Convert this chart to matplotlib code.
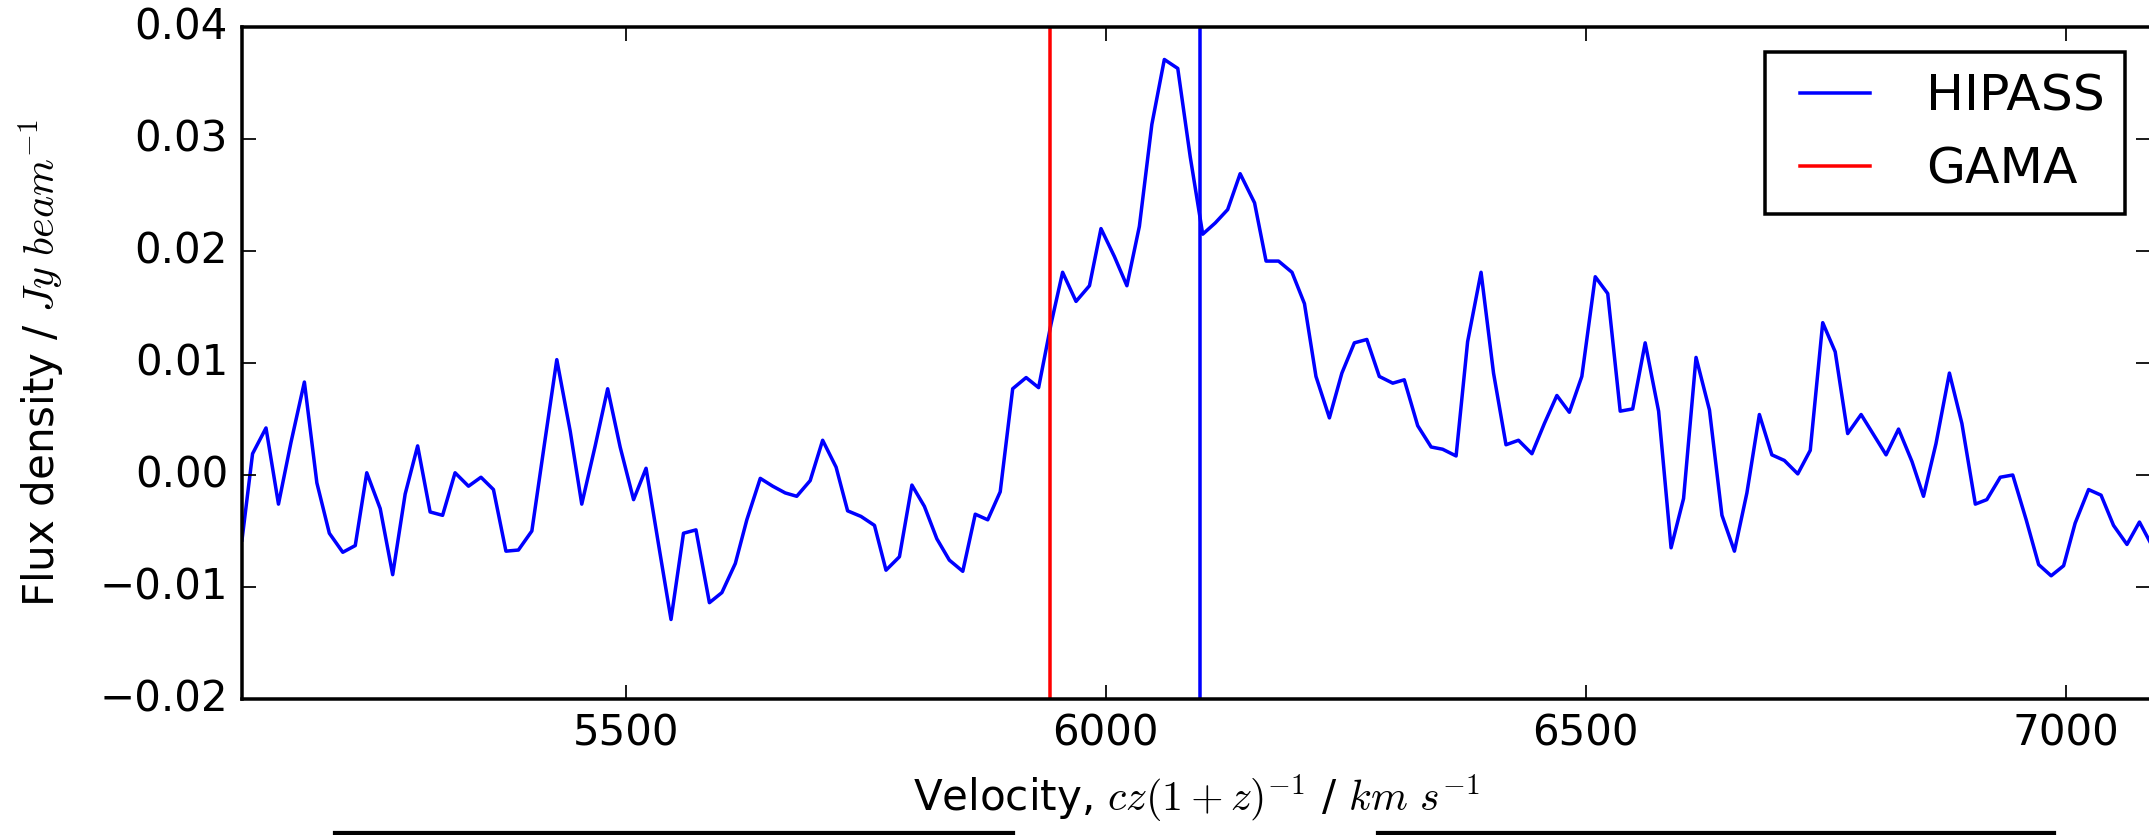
"""HIPASS spectrum around the GAMA redshift, drawn in the classic matplotlib look."""

from __future__ import annotations

import matplotlib.pyplot as plt
from matplotlib.lines import Line2D
from matplotlib.ticker import FuncFormatter

plt.switch_backend("Agg")

# HIPASS channel velocities (km/s) and flux densities (Jy/beam)
velocity = [
    5100, 5111, 5125, 5138, 5151, 5165, 5178, 5191, 5205, 5218,
    5230, 5244, 5257, 5270, 5283, 5296, 5309, 5322, 5336, 5349,
    5362, 5375, 5388, 5402, 5415, 5428, 5442, 5454, 5468, 5481,
    5494, 5508, 5521, 5534, 5547, 5560, 5573, 5587, 5600, 5614,
    5626, 5640, 5653, 5666, 5678, 5692, 5705, 5719, 5731, 5745,
    5759, 5771, 5785, 5798, 5811, 5824, 5837, 5851, 5864, 5877,
    5890, 5903, 5917, 5930, 5943, 5955, 5969, 5983, 5995, 6009,
    6022, 6035, 6048, 6061, 6075, 6088, 6101, 6114, 6127, 6140,
    6155, 6167, 6180, 6194, 6207, 6219, 6233, 6246, 6259, 6272,
    6285, 6299, 6311, 6325, 6339, 6351, 6365, 6377, 6391, 6404,
    6417, 6430, 6444, 6457, 6470, 6483, 6496, 6510, 6523, 6536,
    6549, 6562, 6576, 6589, 6602, 6615, 6629, 6642, 6655, 6668,
    6681, 6694, 6707, 6721, 6734, 6747, 6760, 6773, 6787, 6800,
    6813, 6826, 6840, 6852, 6865, 6879, 6892, 6906, 6918, 6932,
    6945, 6959, 6972, 6985, 6998, 7010, 7024, 7037, 7050, 7064,
    7077, 7090,
]
flux = [
    -0.0058, 0.0019, 0.0042, -0.0026, 0.0029, 0.0083, -0.0007, -0.0052, -0.0069, -0.0063,
    0.0002, -0.0030, -0.0089, -0.0017, 0.0026, -0.0033, -0.0036, 0.0002, -0.0010, -0.0002,
    -0.0013, -0.0068, -0.0067, -0.0050, 0.0027, 0.0103, 0.0039, -0.0026, 0.0026, 0.0077,
    0.0025, -0.0022, 0.0006, -0.0062, -0.0129, -0.0052, -0.0049, -0.0114, -0.0105, -0.0079,
    -0.0040, -0.0003, -0.0010, -0.0016, -0.0019, -0.0005, 0.0031, 0.0007, -0.0032, -0.0037,
    -0.0045, -0.0085, -0.0073, -0.0009, -0.0028, -0.0057, -0.0076, -0.0086, -0.0035, -0.0040,
    -0.0015, 0.0077, 0.0087, 0.0078, 0.0135, 0.0181, 0.0155, 0.0169, 0.0220, 0.0195,
    0.0169, 0.0222, 0.0313, 0.0371, 0.0363, 0.0284, 0.0215, 0.0225, 0.0237, 0.0269,
    0.0243, 0.0191, 0.0191, 0.0181, 0.0153, 0.0088, 0.0051, 0.0091, 0.0118, 0.0121,
    0.0088, 0.0082, 0.0085, 0.0044, 0.0025, 0.0023, 0.0017, 0.0119, 0.0181, 0.0091,
    0.0027, 0.0031, 0.0019, 0.0046, 0.0071, 0.0056, 0.0088, 0.0177, 0.0162, 0.0057,
    0.0059, 0.0118, 0.0057, -0.0065, -0.0021, 0.0105, 0.0058, -0.0036, -0.0068, -0.0016,
    0.0054, 0.0018, 0.0013, 0.0001, 0.0022, 0.0136, 0.0110, 0.0037, 0.0054, 0.0036,
    0.0018, 0.0041, 0.0012, -0.0019, 0.0028, 0.0091, 0.0046, -0.0026, -0.0022, -0.0002,
    0.0000, -0.0040, -0.0080, -0.0090, -0.0081, -0.0043, -0.0013, -0.0018, -0.0045, -0.0062,
    -0.0042, -0.0063,
]

# systemic velocities from each survey
hipass_velocity = 6098
gama_velocity = 5942

x_limits = (5100, 7088)
y_limits = (-0.02, 0.04)
x_ticks = [5500, 6000, 6500, 7000]
y_ticks = [-0.02, -0.01, 0.00, 0.01, 0.02, 0.03, 0.04]

WIDTH_PX, HEIGHT_PX, DPI = 2149, 835, 252


def _flux_label(value: float, _pos: int) -> str:
    text = f"{value:.2f}"
    if text == "-0.00":
        text = "0.00"
    return text.replace("-", "\u2212")


def main() -> None:
    plt.style.use("classic")
    plt.rcParams["figure.facecolor"] = "white"
    plt.rcParams["savefig.facecolor"] = "white"

    fig = plt.figure(figsize=(WIDTH_PX / DPI, HEIGHT_PX / DPI), dpi=DPI)
    ax = fig.add_axes([242 / WIDTH_PX, 1 - 699 / HEIGHT_PX,
                       1908 / WIDTH_PX, 672 / HEIGHT_PX])

    ax.plot(velocity, flux, color="b", label="HIPASS")
    ax.axvline(hipass_velocity, color="b")
    ax.axvline(gama_velocity, color="r", label="GAMA")

    ax.set_xlim(*x_limits)
    ax.set_ylim(*y_limits)
    ax.set_xticks(x_ticks)
    ax.set_yticks(y_ticks)
    ax.yaxis.set_major_formatter(FuncFormatter(_flux_label))

    ax.set_xlabel(r"Velocity, $cz(1+z)^{-1}$ / $km\ s^{-1}$")
    ax.set_ylabel(r"Flux density / $Jy\ beam^{-1}$")
    ax.yaxis.set_label_coords(-0.092, 0.5)

    ax.legend(loc="upper right")

    # top edges of the panels underneath
    for x0, x1 in ((335, 1013), (1378, 2054)):
        fig.add_artist(Line2D([x0 / WIDTH_PX, x1 / WIDTH_PX], [2 / HEIGHT_PX] * 2,
                              transform=fig.transFigure, color="k", linewidth=1.2))

    fig.savefig("out.png", dpi=DPI)
    plt.close(fig)


if __name__ == "__main__":
    main()
